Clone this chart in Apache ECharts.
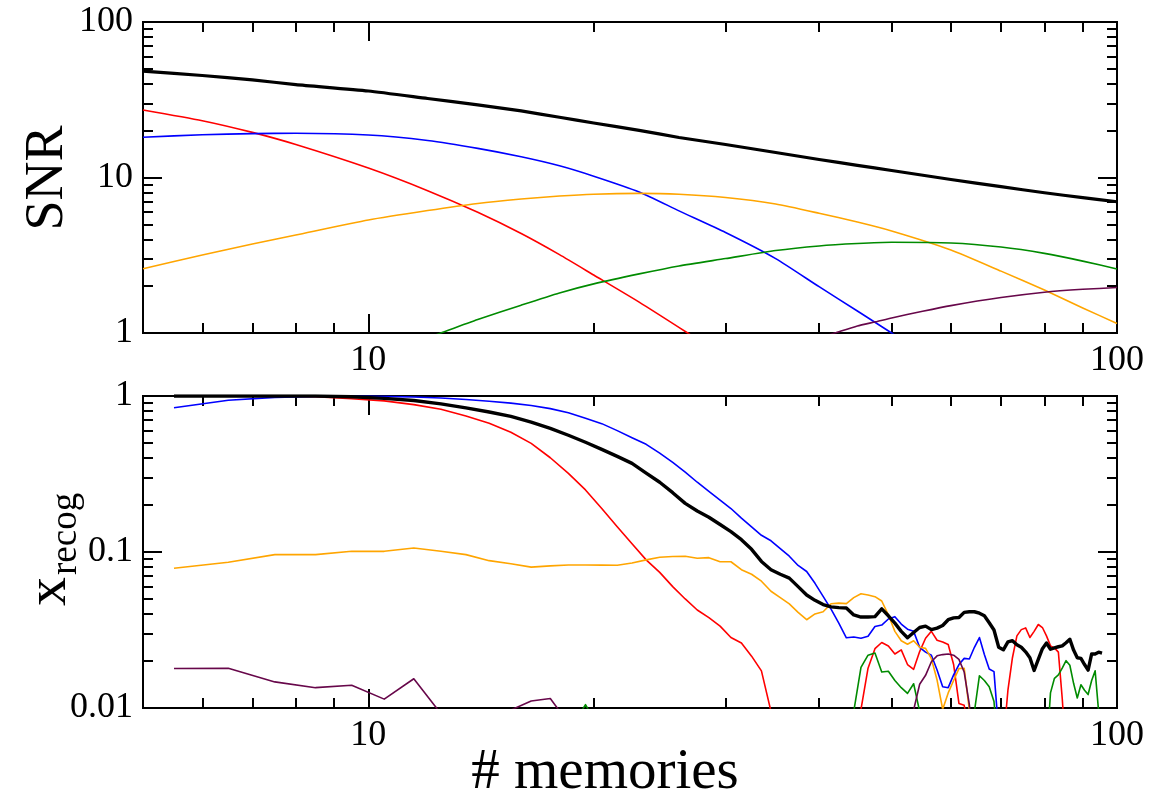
<!DOCTYPE html>
<html>
<head>
<meta charset="utf-8">
<script src="https://cdn.jsdelivr.net/npm/echarts@6/dist/echarts.min.js"></script>
<style>
  html, body { margin: 0; padding: 0; background: #fff; }
  #chart { width: 1158px; height: 801px; }
</style>
</head>
<body>
<div id="chart"></div>
<script>
// ---- axis ticks ----
const memRange = [5, 100];
const snrRange = [1, 100];
const xrRange = [0.01, 1];
const memMajor = [10, 100];
const memMinor = [6, 7, 8, 9, 20, 30, 40, 50, 60, 70, 80, 90];
const snrMajor = [1, 10, 100];
const snrMinor = [2, 3, 4, 5, 6, 7, 8, 9, 20, 30, 40, 50, 60, 70, 80, 90];
const xrMajor = [0.01, 0.1, 1];
const xrMinor = [0.02, 0.03, 0.04, 0.05, 0.06, 0.07, 0.08, 0.09, 0.2, 0.3, 0.4, 0.5, 0.6, 0.7, 0.8, 0.9];

// ---- SNR vs # memories (upper panel) ----
const snrTotal = [[5, 48.3], [6, 45.3], [7, 42.4], [8, 39.6], [10, 36.0], [12, 32.2], [14, 29.3], [16, 26.8], [18, 24.4], [20, 22.4], [23, 20.1], [26, 18.08], [30, 16.3], [35, 14.48], [40, 13.06], [45, 11.98], [50, 11.09], [60, 9.71], [70, 8.73], [80, 7.98], [90, 7.42], [100, 6.98]];
const snrRed = [[5, 27.2], [6, 23.2], [7, 19.5], [8, 16.3], [10, 11.5], [12, 8.23], [14, 5.97], [16, 4.36], [18, 3.19], [20, 2.36], [23, 1.58], [26.7, 1.0], [28, 0.86]];
const snrBlue = [[5, 18.16], [6, 18.82], [7, 19.16], [8, 19.24], [10, 18.77], [12, 17.3], [14, 15.4], [16, 13.6], [18, 11.9], [20, 10.2], [23, 8.07], [26, 6.1], [30, 4.43], [35, 3.01], [40, 1.985], [45, 1.385], [50, 1.0], [52, 0.88]];
const snrOrange = [[5, 2.59], [6, 3.17], [7, 3.74], [8, 4.27], [10, 5.33], [12, 6.13], [14, 6.81], [16, 7.27], [18, 7.6], [20, 7.81], [23, 7.9], [26, 7.8], [30, 7.43], [35, 6.75], [40, 5.89], [45, 5.17], [50, 4.53], [60, 3.42], [70, 2.5], [80, 1.89], [90, 1.45], [100, 1.15]];
const snrGreen = [[12, 0.93], [12.5, 1.0], [14, 1.22], [16, 1.51], [18, 1.81], [20, 2.07], [23, 2.4], [26, 2.7], [30, 3.01], [35, 3.39], [40, 3.63], [45, 3.76], [50, 3.83], [60, 3.79], [70, 3.57], [80, 3.25], [90, 2.9], [100, 2.58]];
const snrPurple = [[40, 0.93], [42, 1.0], [45, 1.11], [47.6, 1.18], [50, 1.25], [55, 1.38], [60, 1.5], [70, 1.69], [80, 1.83], [90, 1.91], [100, 1.96]];

// ---- recognised fraction vs # memories (lower panel) ----
const xrTotal = [[5.5, 1.0], [6.5, 1.0], [7.5, 1.0], [8.5, 1.0], [9.5, 0.99], [10.5, 0.965], [11.5, 0.935], [12.5, 0.89], [13.5, 0.84], [14.5, 0.79], [15.5, 0.74], [16.5, 0.68], [17.5, 0.62], [18.5, 0.56], [19.5, 0.505], [20.5, 0.455], [21.5, 0.41], [22.5, 0.37], [23.5, 0.32], [24.5, 0.28], [25.5, 0.24], [26.5, 0.205], [27.5, 0.183], [28.5, 0.167], [29.5, 0.15], [30.5, 0.135], [31.5, 0.12], [32.5, 0.104], [33.5, 0.087], [34.5, 0.077], [35.5, 0.072], [36.5, 0.068], [37.5, 0.06], [38.5, 0.053], [39.5, 0.049], [40.5, 0.046], [41.5, 0.0445], [42.5, 0.044], [43.5, 0.0438], [44.5, 0.0395], [45.5, 0.0383], [46.5, 0.0383], [47.5, 0.0385], [48.5, 0.0432], [49.5, 0.039], [50.5, 0.035], [51.5, 0.031], [52.5, 0.0282], [53.5, 0.0305], [54.5, 0.0328], [55.5, 0.0335], [56.5, 0.0318], [57.5, 0.0325], [58.5, 0.0338], [59.5, 0.0368], [60.5, 0.0378], [61.5, 0.038], [62.5, 0.041], [63.5, 0.0414], [64.5, 0.0414], [65.5, 0.0405], [66.5, 0.039], [67.5, 0.0352], [68.5, 0.0316], [69.5, 0.0245], [70.5, 0.0236], [71.5, 0.0265], [72.5, 0.027], [73.5, 0.0254], [74.5, 0.0245], [75.5, 0.0229], [76.5, 0.021], [77.5, 0.0174], [78.5, 0.0205], [79.5, 0.024], [80.5, 0.0261], [81.5, 0.0238], [82.5, 0.0243], [83.5, 0.0247], [84.5, 0.025], [85.5, 0.0262], [86.5, 0.0276], [87.5, 0.0235], [88.5, 0.021], [89.5, 0.0208], [90.5, 0.019], [91.5, 0.0175], [92.5, 0.0222], [93.5, 0.0222], [94.5, 0.0228], [95.5, 0.0225]];
const xrRed = [[5.5, 1.0], [6.5, 1.0], [7.5, 1.0], [8.5, 0.99], [9.5, 0.96], [10.5, 0.93], [11.5, 0.88], [12.5, 0.822], [13.5, 0.744], [14.5, 0.668], [15.5, 0.585], [16.5, 0.497], [17.5, 0.402], [18.5, 0.319], [19.5, 0.25], [20.5, 0.19], [21.5, 0.145], [22.5, 0.113], [23.5, 0.089], [24.5, 0.074], [25.5, 0.06], [26.5, 0.05], [27.5, 0.0425], [28.5, 0.038], [29.5, 0.0335], [30.5, 0.0283], [31.5, 0.0261], [32.5, 0.0215], [33.5, 0.0173], [34.5, 0.0095], [35.5, 0.005], [44.5, 0.005], [45.5, 0.0098], [46.5, 0.018], [47.5, 0.024], [48.5, 0.0263], [49.5, 0.025], [50.5, 0.0222], [51.5, 0.0236], [52.5, 0.019], [53.5, 0.0177], [54.5, 0.023], [55.5, 0.028], [56.5, 0.031], [57.5, 0.0272], [58.5, 0.0265], [59.5, 0.0255], [60.5, 0.019], [61.5, 0.0107], [62.5, 0.0104], [63.5, 0.007], [70.5, 0.006], [71.5, 0.013], [72.5, 0.021], [73.5, 0.029], [74.5, 0.0318], [75.5, 0.0326], [76.5, 0.0283], [77.5, 0.031], [78.5, 0.0343], [79.5, 0.0328], [80.5, 0.029], [81.5, 0.025], [82.5, 0.0243], [83.5, 0.0228], [84.5, 0.0115], [85.5, 0.005]];
const xrBlue = [[5.5, 0.84], [6.5, 0.94], [7.5, 0.98], [8.5, 0.995], [9.5, 1.0], [10.5, 0.995], [11.5, 0.985], [12.5, 0.97], [13.5, 0.95], [14.5, 0.925], [15.5, 0.9], [16.5, 0.87], [17.5, 0.83], [18.5, 0.78], [19.5, 0.72], [20.5, 0.665], [21.5, 0.6], [22.5, 0.54], [23.5, 0.49], [24.5, 0.43], [25.5, 0.375], [26.5, 0.325], [27.5, 0.28], [28.5, 0.245], [29.5, 0.215], [30.5, 0.19], [31.5, 0.165], [32.5, 0.145], [33.5, 0.128], [34.5, 0.118], [35.5, 0.105], [36.5, 0.094], [37.5, 0.082], [38.5, 0.075], [39.5, 0.063], [40.5, 0.052], [41.5, 0.043], [42.5, 0.035], [43.5, 0.0282], [44.5, 0.0285], [45.5, 0.028], [46.5, 0.0288], [47.5, 0.0333], [48.5, 0.034], [49.5, 0.0372], [50.5, 0.0385], [51.5, 0.0345], [52.5, 0.032], [53.5, 0.031], [54.5, 0.0245], [55.5, 0.0228], [56.5, 0.0218], [57.5, 0.0175], [58.5, 0.0137], [59.5, 0.0135], [60.5, 0.0163], [61.5, 0.019], [62.5, 0.0208], [63.5, 0.0206], [64.5, 0.0245], [65.5, 0.0283], [66.5, 0.022], [67.5, 0.0178], [68.5, 0.0171], [69.5, 0.007], [70.5, 0.005]];
const xrOrange = [[5.5, 0.0786], [6.5, 0.0859], [7.5, 0.0962], [8.5, 0.0962], [9.5, 0.101], [10.5, 0.101], [11.5, 0.106], [12.5, 0.101], [13.5, 0.0962], [14.5, 0.088], [15.5, 0.084], [16.5, 0.08], [17.5, 0.0815], [18.5, 0.0826], [19.5, 0.0826], [20.5, 0.0824], [21.5, 0.0822], [22.5, 0.085], [23.5, 0.089], [24.5, 0.0925], [25.5, 0.0935], [26.5, 0.094], [27.5, 0.0912], [28.5, 0.092], [29.5, 0.0866], [30.5, 0.0866], [31.5, 0.077], [32.5, 0.072], [33.5, 0.065], [34.5, 0.056], [35.5, 0.051], [36.5, 0.0465], [37.5, 0.041], [38.5, 0.0368], [39.5, 0.0401], [40.5, 0.0414], [41.5, 0.0466], [42.5, 0.047], [43.5, 0.0467], [44.5, 0.051], [45.5, 0.054], [46.5, 0.053], [47.5, 0.0517], [48.5, 0.0485], [49.5, 0.0395], [50.5, 0.031], [51.5, 0.027], [52.5, 0.0256], [53.5, 0.027], [54.5, 0.0245], [55.5, 0.0241], [56.5, 0.0207], [57.5, 0.0151], [58.5, 0.0098], [59.5, 0.0125], [60.5, 0.015], [61.5, 0.0179], [62.5, 0.018], [63.5, 0.0097], [64.5, 0.005]];
const xrGreen = [[18.5, 0.007], [19.5, 0.0105], [20.5, 0.007], [43.5, 0.005], [44.5, 0.0095], [45.5, 0.0182], [46.5, 0.0218], [47.5, 0.0225], [48.5, 0.017], [49.5, 0.0172], [50.5, 0.015], [51.5, 0.0135], [52.5, 0.0124], [53.5, 0.0143], [54.5, 0.0095], [55.5, 0.005], [63.5, 0.005], [64.5, 0.0095], [65.5, 0.0161], [66.5, 0.015], [67.5, 0.0137], [68.5, 0.011], [69.5, 0.005], [80.5, 0.005], [81.5, 0.0125], [82.5, 0.0155], [83.5, 0.0163], [84.5, 0.018], [85.5, 0.0201], [86.5, 0.0188], [87.5, 0.0144], [88.5, 0.0116], [89.5, 0.0141], [90.5, 0.013], [91.5, 0.0122], [92.5, 0.015], [93.5, 0.0173], [94.5, 0.0095], [95.5, 0.005]];
const xrPurple = [[5.5, 0.0179], [6.5, 0.018], [7.5, 0.0147], [8.5, 0.0135], [9.5, 0.014], [10.5, 0.0114], [11.5, 0.0154], [12.5, 0.0092], [13.5, 0.006], [14.5, 0.006], [15.5, 0.0097], [16.5, 0.0111], [17.5, 0.0115], [18.5, 0.008], [19.5, 0.005], [52.5, 0.005], [53.5, 0.0097], [54.5, 0.0142], [55.5, 0.0162], [56.5, 0.0198], [57.5, 0.0216], [58.5, 0.022], [59.5, 0.0222], [60.5, 0.0218], [61.5, 0.0205], [62.5, 0.017], [63.5, 0.0105], [64.5, 0.005]];

const COLORS = { total: '#000000', red: '#ff0000', blue: '#0000ff', orange: '#ffa500', green: '#008b00', purple: '#67074a' };
const FONT = 'Liberation Serif';
const TICK_FONT = 36;

const lg = v => Math.log10(v);
const powLabel = v => {
  const n = Math.pow(10, v);
  return n >= 1 ? String(Math.round(n)) : n.toFixed(Math.round(-v));
};

const GRIDS = [
  { left: 143, top: 22, width: 974, height: 311 },
  { left: 143, top: 396, width: 974, height: 312 }
];

// Tick-only companion axes, laid out in log10 units
function tickAxis(grid, position, range, values, len, labels) {
  return {
    type: 'value', gridIndex: grid, position: position,
    min: lg(range[0]), max: lg(range[1]),
    axisLine: { show: false, onZero: false },
    splitLine: { show: false },
    axisTick: { show: true, inside: true, length: len, customValues: values.map(lg), lineStyle: { color: '#000', width: 2 } },
    axisLabel: labels ? {
      show: true, customValues: values.map(lg), formatter: powLabel,
      fontFamily: FONT, fontSize: TICK_FONT, color: '#000', margin: 10
    } : { show: false }
  };
}

function dataAxis(grid, range) {
  return {
    type: 'log', logBase: 10, gridIndex: grid, min: range[0], max: range[1], show: false,
    axisLine: { onZero: false }, splitLine: { show: false }
  };
}

const xAxes = [];
const yAxes = [];
[[snrRange, snrMajor, snrMinor], [xrRange, xrMajor, xrMinor]].forEach((yDef, g) => {
  xAxes.push(dataAxis(g, memRange));
  xAxes.push(tickAxis(g, 'bottom', memRange, memMajor, 19, true));
  xAxes.push(tickAxis(g, 'bottom', memRange, memMinor, 10, false));
  xAxes.push(tickAxis(g, 'top', memRange, memMajor, 19, false));
  xAxes.push(tickAxis(g, 'top', memRange, memMinor, 10, false));
  yAxes.push(dataAxis(g, yDef[0]));
  yAxes.push(tickAxis(g, 'left', yDef[0], yDef[1], 19, true));
  yAxes.push(tickAxis(g, 'left', yDef[0], yDef[2], 10, false));
  yAxes.push(tickAxis(g, 'right', yDef[0], yDef[1], 19, false));
  yAxes.push(tickAxis(g, 'right', yDef[0], yDef[2], 10, false));
});

function line(panel, data, color, width) {
  return {
    type: 'line', xAxisIndex: panel * 5, yAxisIndex: panel * 5, data: data,
    showSymbol: false, symbol: 'none', clip: true, silent: true,
    smooth: panel === 0 ? 0.2 : false,
    lineStyle: { color: color, width: width, join: 'round' },
    z: width > 2 ? 4 : 3
  };
}

const series = [
  line(0, snrRed, COLORS.red, 1.6),
  line(0, snrBlue, COLORS.blue, 1.6),
  line(0, snrOrange, COLORS.orange, 1.6),
  line(0, snrGreen, COLORS.green, 1.6),
  line(0, snrPurple, COLORS.purple, 1.6),
  line(0, snrTotal, COLORS.total, 3.2),
  line(1, xrRed, COLORS.red, 1.6),
  line(1, xrBlue, COLORS.blue, 1.6),
  line(1, xrOrange, COLORS.orange, 1.6),
  line(1, xrGreen, COLORS.green, 1.6),
  line(1, xrPurple, COLORS.purple, 1.6),
  line(1, xrTotal, COLORS.total, 3.4)
];

const chart = echarts.init(document.getElementById('chart'), null, { renderer: 'canvas' });
chart.setOption({
  animation: false,
  backgroundColor: '#ffffff',
  grid: GRIDS.map(g => Object.assign({ show: true, borderColor: '#000', borderWidth: 2, backgroundColor: 'transparent', containLabel: false }, g)),
  xAxis: xAxes,
  yAxis: yAxes,
  series: series,
  graphic: [
    { type: 'text', x: 48, y: 178, rotation: Math.PI / 2, z: 10,
      style: { text: 'SNR', font: '54px "Liberation Serif"', fill: '#000', align: 'center', verticalAlign: 'middle' } },
    { type: 'text', x: 605, y: 773, z: 10,
      style: { text: '# memories', font: '57px "Liberation Serif"', fill: '#000', align: 'center', verticalAlign: 'middle' } },
    { type: 'group', x: 50, y: 606, rotation: Math.PI / 2, z: 10,
      children: [
        { type: 'text', x: 0, y: 0, style: { text: 'x', font: '58px "Liberation Serif"', fill: '#000', align: 'left', verticalAlign: 'middle' } },
        { type: 'text', x: 31, y: 16, style: { text: 'recog', font: '37px "Liberation Serif"', fill: '#000', align: 'left', verticalAlign: 'middle' } }
      ] }
  ]
});
</script>
</body>
</html>
